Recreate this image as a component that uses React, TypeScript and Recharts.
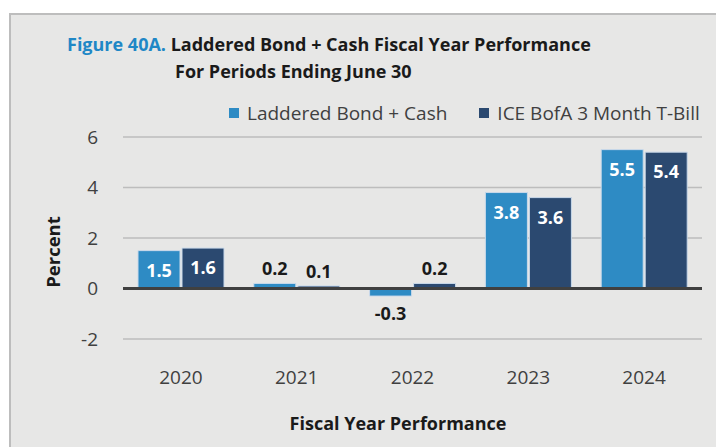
import { BarChart, Bar, XAxis, YAxis, CartesianGrid, ReferenceLine, Legend, LabelList } from "recharts";

const YEARS = ["2020", "2021", "2022", "2023", "2024"];
const LADDERED = [1.5, 0.2, -0.3, 3.8, 5.5];
const TBILL = [1.6, 0.1, 0.2, 3.6, 5.4];
const Y_TICKS = [-2, 0, 2, 4, 6];

const SERIES = [
  { key: "laddered", name: "Laddered Bond + Cash", color: "#2E8BC4" },
  { key: "tbill", name: "ICE BofA 3 Month T-Bill", color: "#2B4970" },
];

const FONT = "'Open Sans', Lato, sans-serif";

const data = YEARS.map((year, i) => ({
  year,
  laddered: LADDERED[i],
  tbill: TBILL[i],
}));

function renderValue(props: any) {
  const { x, y, width, height, value } = props;
  const top = Math.min(y, y + height);
  const bottom = Math.max(y, y + height);
  const cx = x + width / 2;
  let ty = top - 15;
  let fill = "#1a1a1a";
  if (value >= 1) {
    ty = top + 19;
    fill = "#ffffff";
  } else if (value < 0) {
    ty = bottom + 17;
  }
  return (
    <text
      x={cx}
      y={ty}
      textAnchor="middle"
      dominantBaseline="central"
      fill={fill}
      fontSize={18}
      fontWeight={700}
      fontFamily={FONT}
    >
      {value}
    </text>
  );
}

function LegendContent() {
  return (
    <div style={{ display: "flex", alignItems: "center", fontSize: 19, color: "#404040", fontFamily: FONT, whiteSpace: "nowrap" }}>
      {SERIES.map((s, i) => (
        <div key={s.key} style={{ display: "flex", alignItems: "center", marginRight: i === 0 ? 32 : 0 }}>
          <span style={{ display: "inline-block", width: 10, height: 10, background: s.color, marginRight: 8 }} />
          <span>{s.name}</span>
        </div>
      ))}
    </div>
  );
}

export default function App() {
  return (
    <div style={{ position: "relative", width: 716, height: 439, overflow: "hidden", fontFamily: FONT }}>
      <div
        style={{
          position: "absolute",
          left: 1,
          top: 5,
          width: 730,
          height: 450,
          background: "#e7e7e6",
          borderLeft: "2px solid #bdbdbd",
          borderTop: "2px solid #bdbdbd",
        }}
      />
      <div style={{ position: "absolute", left: 59, top: 23, fontSize: 18, fontWeight: 700, lineHeight: "27px", color: "#1a1a1a", whiteSpace: "nowrap" }}>
        <div>
          <span style={{ color: "#1F87C6" }}>Figure 40A.</span> Laddered Bond + Cash Fiscal Year Performance
        </div>
        <div style={{ paddingLeft: 108 }}>For Periods Ending June 30</div>
      </div>
      <div
        style={{
          position: "absolute",
          left: 44,
          top: 244,
          transform: "translate(-50%, -50%) rotate(-90deg)",
          fontSize: 18.5,
          fontWeight: 700,
          color: "#1a1a1a",
        }}
      >
        Percent
      </div>
      <div
        style={{
          position: "absolute",
          left: 390,
          top: 415,
          transform: "translate(-50%, -50%)",
          fontSize: 18,
          fontWeight: 700,
          color: "#1a1a1a",
          whiteSpace: "nowrap",
        }}
      >
        Fiscal Year Performance
      </div>
      <div style={{ position: "absolute", left: 0, top: 0 }}>
        <BarChart
          width={716}
          height={439}
          data={data}
          margin={{ top: 129, right: 22, left: 0, bottom: 48 }}
          barGap={2}
          barSize={42}
        >
          <CartesianGrid vertical={false} stroke="#bdbdbd" strokeWidth={1.5} />
          <XAxis
            dataKey="year"
            height={60}
            axisLine={false}
            tickLine={false}
            tickMargin={26}
            tick={{ fontSize: 19, fill: "#404040", fontFamily: FONT }}
          />
          <YAxis
            width={115}
            domain={[-2, 6]}
            ticks={Y_TICKS}
            axisLine={false}
            tickLine={false}
            tickMargin={19}
            tick={{ fontSize: 19, fill: "#404040", fontFamily: FONT }}
          />
          <ReferenceLine y={0} stroke="#404040" strokeWidth={3} />
          <Legend
            layout="horizontal"
            verticalAlign="middle"
            align="center"
            wrapperStyle={{ top: 92, left: 221, width: "auto" }}
            content={LegendContent}
          />
          {SERIES.map((s) => (
            <Bar key={s.key} dataKey={s.key} name={s.name} fill={s.color} stroke="#c9d9ea" strokeWidth={1} isAnimationActive={false}>
              <LabelList dataKey={s.key} content={renderValue} />
            </Bar>
          ))}
        </BarChart>
      </div>
    </div>
  );
}
